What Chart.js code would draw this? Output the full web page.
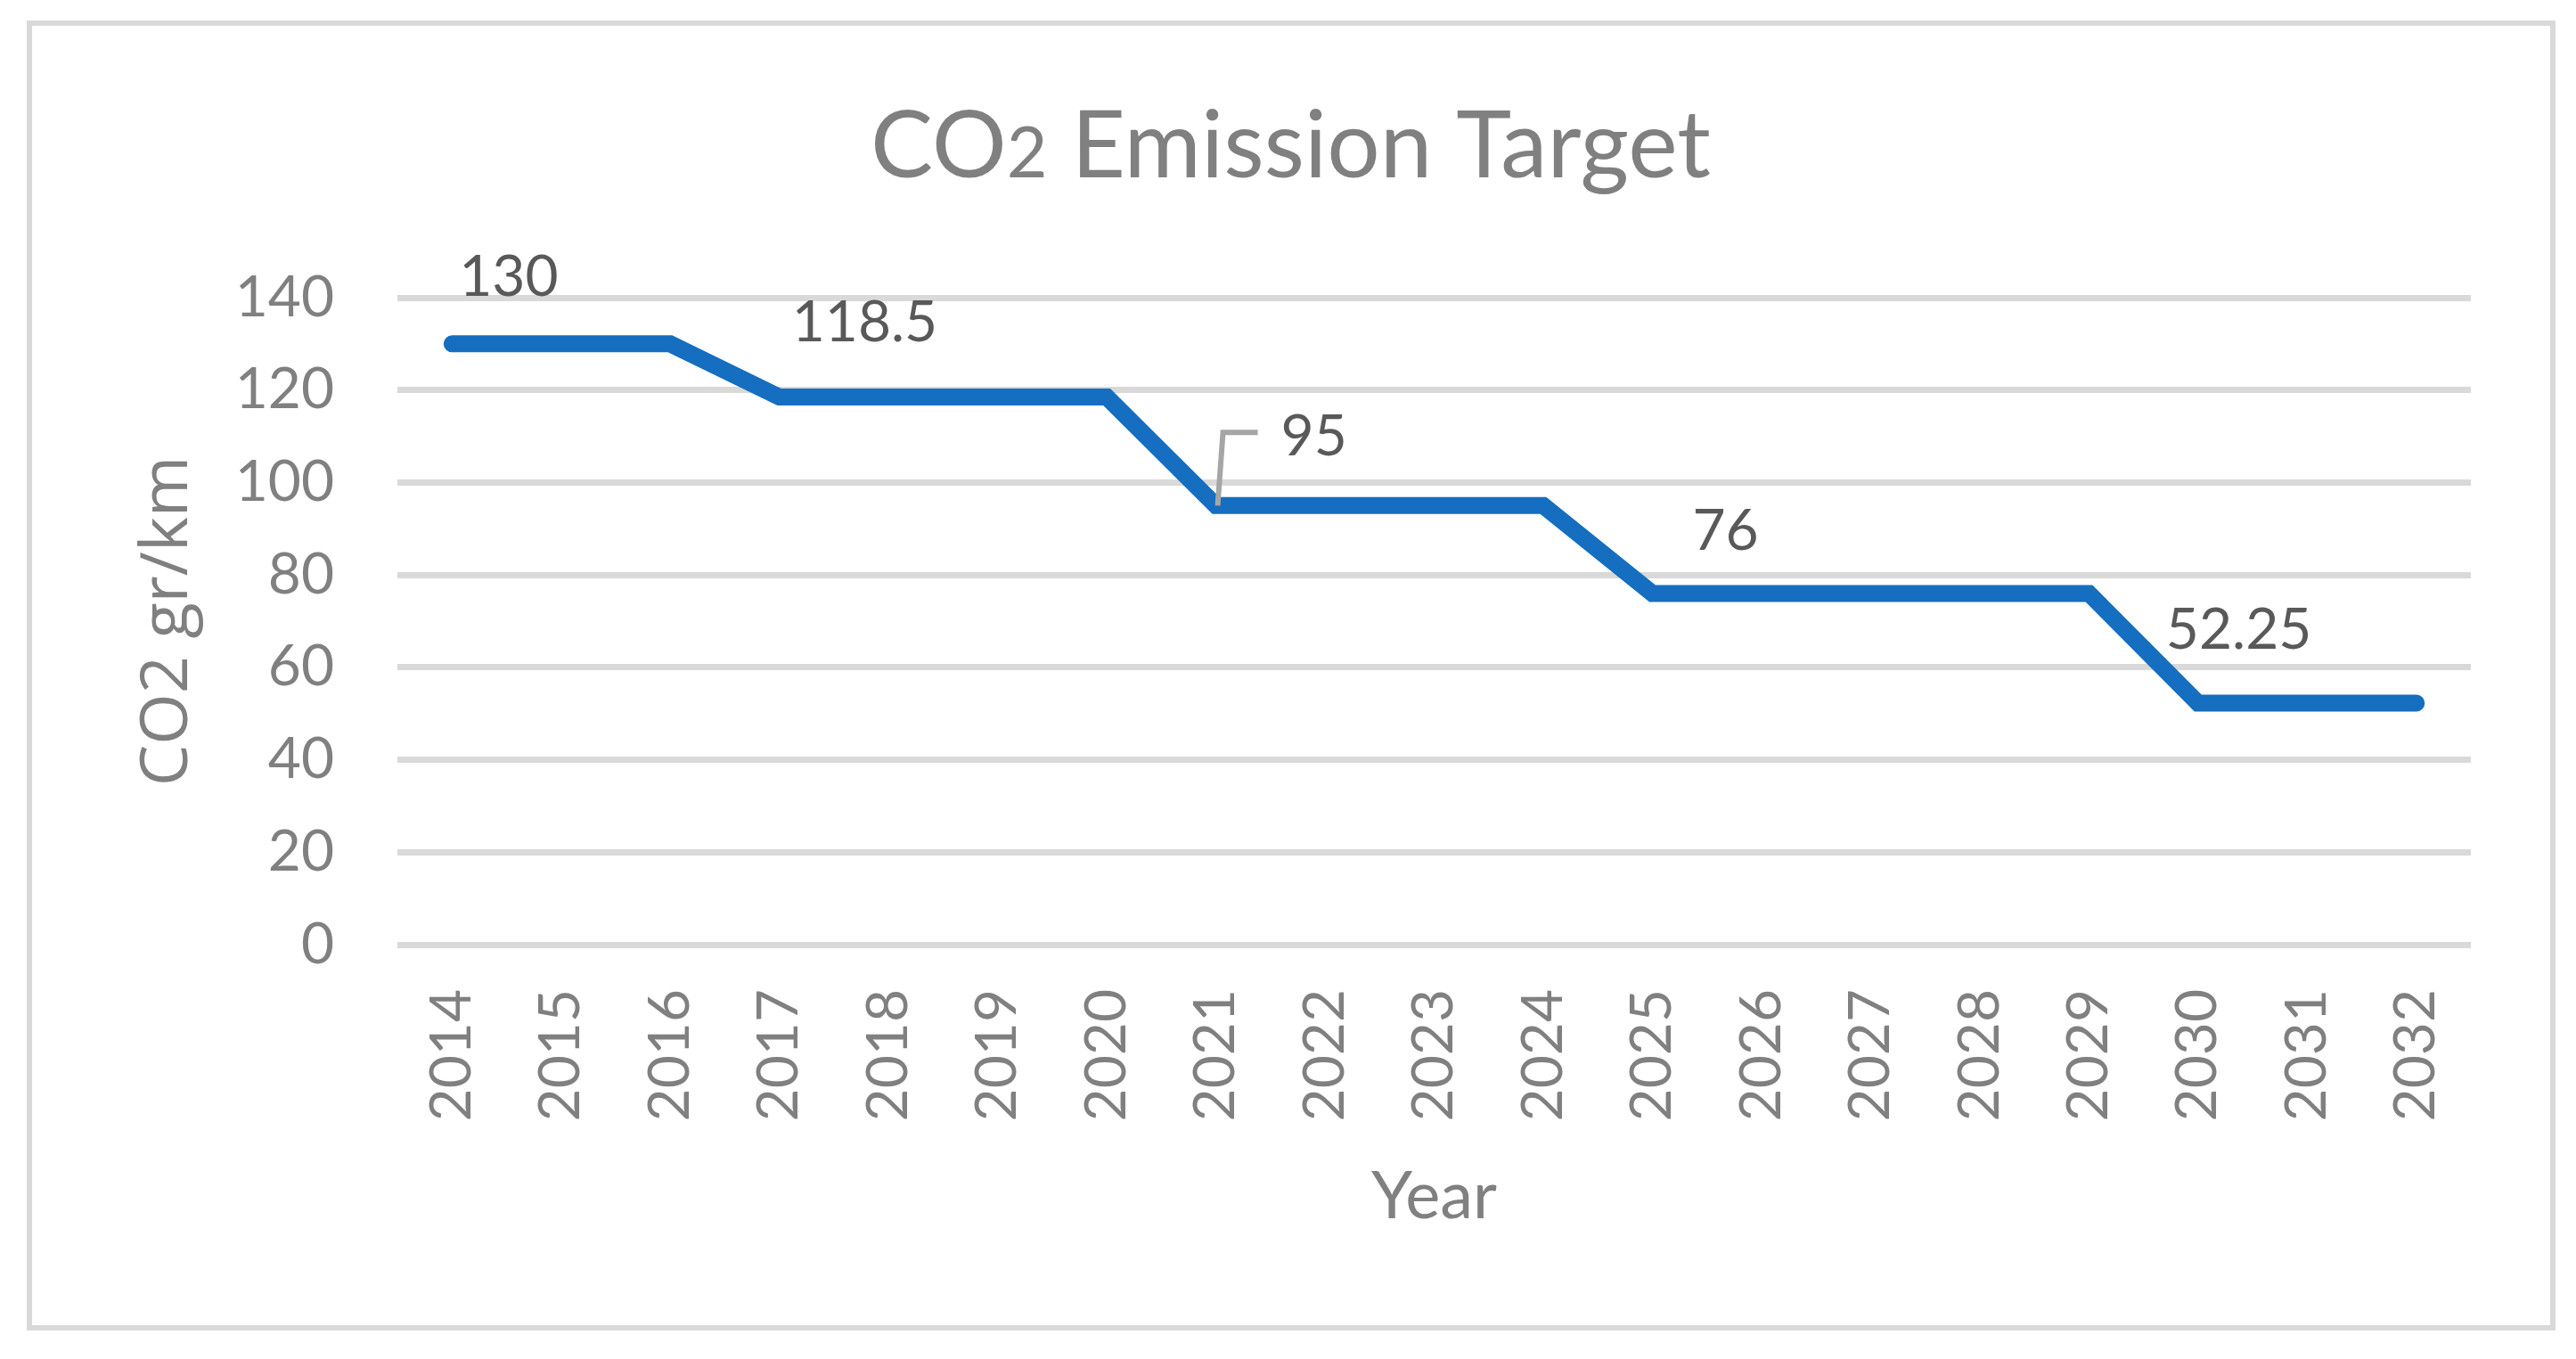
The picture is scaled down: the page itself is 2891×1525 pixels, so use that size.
<!DOCTYPE html>
<html>
<head>
<meta charset="utf-8">
<title>CO2 Emission Target</title>
<script src="https://cdn.jsdelivr.net/npm/chart.js@4.4.1/dist/chart.umd.min.js"></script>
<style>
  html, body { margin: 0; padding: 0; background: #fff; }
  #frame {
    position: absolute; left: 30px; top: 23px; width: 2838px; height: 1470px;
    box-sizing: border-box; border: 6px solid #d9d9d9; pointer-events: none;
  }
  #co2Chart { position: absolute; left: 0; top: 0; }
</style>
</head>
<body>
<canvas id="co2Chart" width="2891" height="1525"></canvas>
<div id="frame"></div>
<script>
// data
const years = ['2014', '2015', '2016', '2017', '2018', '2019', '2020', '2021', '2022', '2023',
               '2024', '2025', '2026', '2027', '2028', '2029', '2030', '2031', '2032'];
const co2Target = [130, 130, 130, 118.5, 118.5, 118.5, 118.5, 95, 95, 95,
                   95, 76, 76, 76, 76, 76, 52.25, 52.25, 52.25];
const yTickValues = [0, 20, 40, 60, 80, 100, 120, 140];

// which points carry a value label, and where the label sits next to its point
const labelIndexes = [0, 3, 7, 11, 16];
const labelOffsets = [[8, -74], [14, -83], [73, -77], [45, -70], [-36, -82]];

const greyText = '#808080';

// title with the small "2"
const titlePlugin = {
    id: 'co2Title',
    afterDraw(chart) {
        const ctx = chart.ctx;
        const big = '105px Lato';
        const small = '79px Lato';
        const parts = [['CO', big], ['2', small], [' Emission Target', big]];
        ctx.save();
        ctx.fillStyle = greyText;
        ctx.textBaseline = 'alphabetic';
        ctx.textAlign = 'left';
        let total = 0;
        parts.forEach(function (p) { ctx.font = p[1]; total += ctx.measureText(p[0]).width; });
        let x = chart.width / 2 + 3 - total / 2;
        parts.forEach(function (p) {
            ctx.font = p[1];
            ctx.fillText(p[0], x, 199);
            x += ctx.measureText(p[0]).width;
        });
        ctx.restore();
    }
};

// value labels, one of them with a leader line
const valueLabelPlugin = {
    id: 'valueLabels',
    afterDatasetsDraw(chart) {
        const ctx = chart.ctx;
        const meta = chart.getDatasetMeta(0);
        ctx.save();
        labelIndexes.forEach(function (idx, i) {
            const pt = meta.data[idx];
            const off = labelOffsets[i];
            if (idx === 7) {
                ctx.strokeStyle = '#a6a6a6';
                ctx.lineWidth = 6;
                ctx.beginPath();
                ctx.moveTo(pt.x + 2, pt.y);
                ctx.lineTo(pt.x + 8, pt.y - 82);
                ctx.lineTo(pt.x + 47, pt.y - 82);
                ctx.stroke();
            }
            ctx.font = '64px Lato';
            ctx.fillStyle = '#595959';
            ctx.textAlign = 'left';
            ctx.textBaseline = 'middle';
            ctx.fillText(String(co2Target[idx]), pt.x + off[0], pt.y + off[1]);
        });
        ctx.restore();
    }
};

new Chart(document.getElementById('co2Chart'), {
    type: 'line',
    data: {
        labels: years,
        datasets: [{
            data: co2Target,
            borderColor: '#156ec0',
            backgroundColor: '#156ec0',
            borderWidth: 19,
            borderCapStyle: 'round',
            borderJoinStyle: 'miter',
            pointRadius: 0,
            tension: 0,
            fill: false
        }]
    },
    options: {
        responsive: false,
        devicePixelRatio: 1,
        animation: false,
        layout: { padding: { top: 334, right: 118, bottom: 0, left: 0 } },
        plugins: {
            legend: { display: false },
            title: { display: false },
            tooltip: { enabled: false }
        },
        scales: {
            x: {
                offset: true,
                grid: { display: false, drawTicks: false },
                border: { display: false },
                ticks: {
                    autoSkip: false,
                    minRotation: 90,
                    maxRotation: 90,
                    padding: 50,
                    color: greyText,
                    font: { family: 'Lato', size: 64 }
                },
                title: {
                    display: true,
                    text: 'Year',
                    color: greyText,
                    font: { family: 'Lato', size: 74 },
                    padding: { top: 0, bottom: 137 }
                },
                afterFit: function (scale) { scale.height = 465; }
            },
            y: {
                min: 0,
                max: 140,
                afterBuildTicks: function (scale) {
                    scale.ticks = yTickValues.map(function (v) { return { value: v }; });
                },
                grid: { color: '#d9d9d9', lineWidth: 7, drawTicks: false },
                border: { display: false },
                ticks: {
                    padding: 71,
                    color: greyText,
                    font: { family: 'Lato', size: 64 }
                },
                title: {
                    display: true,
                    text: 'CO2 gr/km',
                    color: greyText,
                    font: { family: 'Open Sans', size: 74 },
                    padding: { top: 145, bottom: 0 }
                },
                afterFit: function (scale) { scale.width = 446; }
            }
        }
    },
    plugins: [titlePlugin, valueLabelPlugin]
});
</script>
</body>
</html>
